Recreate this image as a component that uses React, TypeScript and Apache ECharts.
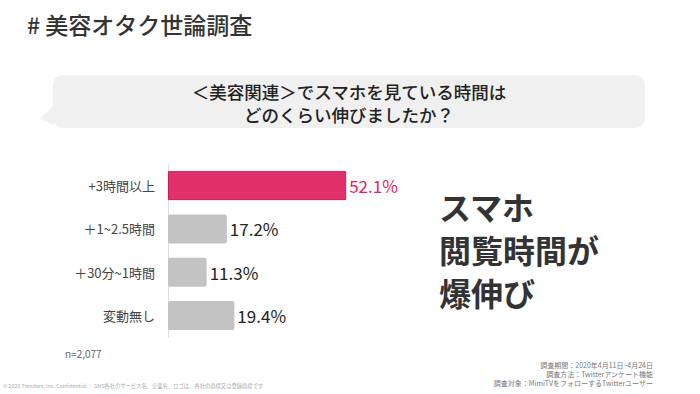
import React, { useEffect, useRef } from "react";
import * as echarts from "echarts";

const categories = ["+3時間以上", "＋1~2.5時間", "＋30分~1時間", "変動無し"];
const values = [52.1, 17.2, 11.3, 19.4];
const titleText = "# 美容オタク世論調査";
const questionLines = ["＜美容関連＞でスマホを見ている時間は", "どのくらい伸びましたか？"];
const headlineLines = ["スマホ", "閲覧時間が", "爆伸び"];
const sampleText = "n=2,077";
const surveyLines = [
  "調査期間：2020年4月11日~4月24日",
  "調査方法：Twitterアンケート機能",
  "調査対象：MimiTVをフォローするTwitterユーザー",
];
const footerText =
  "© 2020 Trenders, Inc. Confidential ｜ SNS各社のサービス名、企業名、ロゴは、各社の商標又は登録商標です";

const FONT = "'Noto Sans CJK JP', 'Noto Sans', sans-serif";
const PINK = "#E1306A";
const GRAY = "#C3C3C3";

export default function App() {
  const ref = useRef<HTMLDivElement>(null);
  useEffect(() => {
    if (!ref.current) return;
    const chart = echarts.init(ref.current, null, { renderer: "svg" });
    const data = values.map((v, i) => ({
      value: v,
      itemStyle:
        i === 0
          ? { color: PINK, borderColor: "#D01A57", borderWidth: 1 }
          : { color: GRAY, borderRadius: 2 },
      label: { color: i === 0 ? "#E0245E" : "#222" },
    }));
    chart.setOption({
      animation: false,
      backgroundColor: "#ffffff",
      textStyle: { fontFamily: FONT },
      grid: { left: 168, top: 164, width: 342, height: 173, containLabel: false },
      xAxis: {
        type: "value",
        min: 0,
        max: 100,
        show: false,
      },
      yAxis: {
        type: "category",
        data: categories,
        inverse: true,
        axisLine: { show: true, lineStyle: { color: "#DDDDDD", width: 1 } },
        axisTick: { show: false },
        axisLabel: { color: "#444", fontSize: 13, margin: 13, fontFamily: FONT },
      },
      series: [
        {
          type: "bar",
          data,
          barWidth: 29,
          label: {
            show: true,
            position: "right",
            distance: 3,
            fontSize: 17,
            fontFamily: FONT,
            formatter: (p: any) => p.value.toFixed(1) + "%",
          },
        },
      ],
      graphic: [
        {
          type: "text",
          x: 27,
          y: 24,
          style: {
            text: titleText,
            fontSize: 23,
            fontWeight: 500,
            fill: "#333",
            fontFamily: FONT,
            verticalAlign: "middle",
          },
        },
        {
          type: "rect",
          shape: { x: 53, y: 75, width: 592, height: 53, r: 10 },
          style: { fill: "#F0F0F0" },
        },
        {
          type: "polygon",
          shape: { points: [[54, 105], [40, 119], [54, 125]] },
          style: { fill: "#F0F0F0" },
        },
        {
          type: "text",
          x: 349,
          y: 91,
          style: {
            text: questionLines[0],
            fontSize: 17.5,
            fontWeight: 500,
            fill: "#222",
            fontFamily: FONT,
            align: "center",
            verticalAlign: "middle",
          },
        },
        {
          type: "text",
          x: 349,
          y: 114,
          style: {
            text: questionLines[1],
            fontSize: 17.5,
            fontWeight: 500,
            fill: "#222",
            fontFamily: FONT,
            align: "center",
            verticalAlign: "middle",
          },
        },
        ...headlineLines.map((t, i) => ({
          type: "text",
          x: 439,
          y: 206 + i * 43,
          style: {
            text: t,
            fontSize: 32,
            fontWeight: "bold",
            fill: "#333",
            fontFamily: FONT,
            verticalAlign: "middle",
          },
        })),
        {
          type: "text",
          x: 65,
          y: 353,
          style: { text: sampleText, fontSize: 10, fill: "#666", fontFamily: FONT, verticalAlign: "middle" },
        },
        ...surveyLines.map((t, i) => ({
          type: "text",
          x: 653,
          y: 365 + i * 9,
          style: {
            text: t,
            fontSize: 7,
            lineHeight: 8,
            fill: "#777",
            fontFamily: FONT,
            align: "right",
            verticalAlign: "middle",
          },
        })),
        {
          type: "text",
          x: 3,
          y: 386,
          style: { text: footerText, fontSize: 5.3, fill: "#AAA", fontFamily: FONT, verticalAlign: "middle" },
        },
      ],
    });
    return () => chart.dispose();
  }, []);
  return (
    <div
      ref={ref}
      style={{ position: "fixed", left: 0, top: 0, width: 700, height: 394 }}
    />
  );
}
